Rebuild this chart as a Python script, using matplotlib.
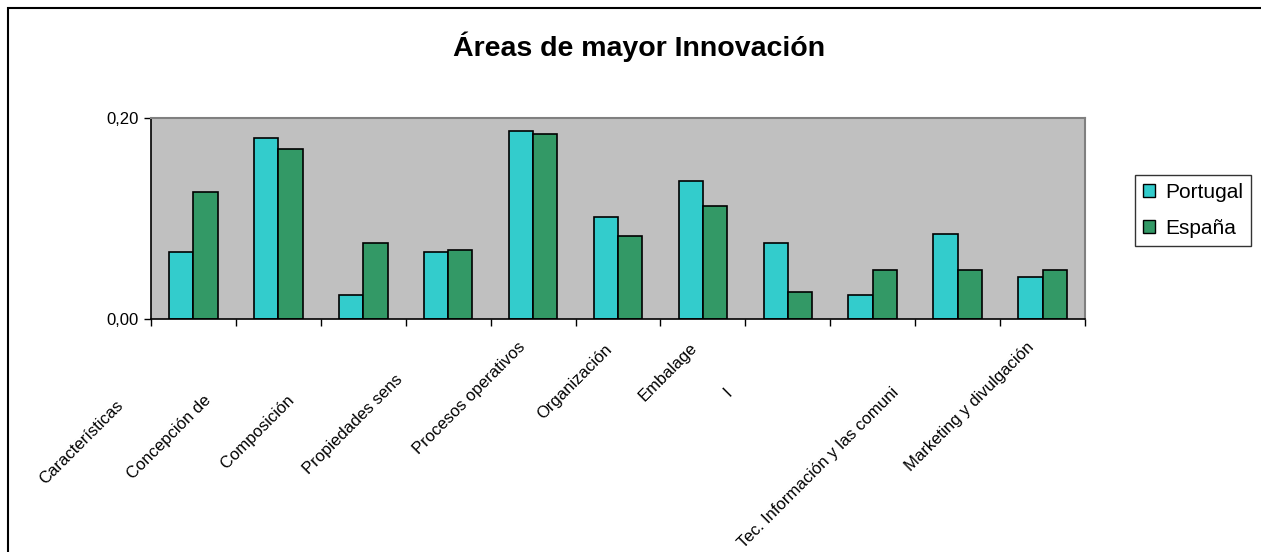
import numpy as np
import matplotlib
matplotlib.use("Agg")
import matplotlib.pyplot as plt
from matplotlib.patches import Patch, Rectangle

plt.rcParams['font.family'] = ['Liberation Sans', 'DejaVu Sans']

# datos
categorias = ["Características", "Concepción de ", "Composición ", "Propiedades sens",
              "Procesos operativos", "Organización", "Embalage", "I", "",
              "Tec. Información y las comuni", "Marketing y divulgación"]
portugal = [0.067, 0.180, 0.024, 0.067, 0.187, 0.101, 0.137, 0.076, 0.024, 0.085, 0.042]
espana = [0.126, 0.169, 0.076, 0.069, 0.184, 0.083, 0.112, 0.027, 0.049, 0.049, 0.049]

# desplazamiento de cada etiqueta (px) respecto al centro del grupo
label_dx = [-73, -67, -68, -48, -10, -8, -8, -58, 0, -61, -11]
label_dy = [-84, -76, -76, -58, -26, -28, -26, -72, 0, -71, -26]

W, H = 1261, 552
fig = plt.figure(figsize=(W/100, H/100), dpi=100)
fig.patch.set_facecolor("white")

# marco del gráfico
fig.patches.append(Rectangle((8/W, -0.05), 1.2, 1-8/H+0.05, transform=fig.transFigure,
                             fill=False, edgecolor="black", linewidth=1.5))

ax = fig.add_axes([151/W, (H-319)/H, (1085-151)/W, (319-118)/H])
ax.set_facecolor("#C0C0C0")

x = np.arange(len(categorias))
w = 1/3.5
ax.bar(x - w/2, portugal, w, color="#33CCCC", edgecolor="black", linewidth=1.2, label="Portugal")
ax.bar(x + w/2, espana, w, color="#339966", edgecolor="black", linewidth=1.2, label="España")

ax.set_xlim(-0.5, len(categorias)-0.5)
ax.set_ylim(0, 0.20)
ax.set_yticks([0, 0.20])
ax.set_yticklabels(["0,00", "0,20"], fontsize=12)
ax.set_xticks(np.arange(len(categorias)+1) - 0.5)
ax.set_xticklabels([])
ax.tick_params(axis="x", direction="out", length=5, width=1, color="black")
ax.tick_params(axis="y", direction="out", length=5, width=1, color="black", pad=4)

for s in ["top", "right"]:
    ax.spines[s].set_color("#808080")
    ax.spines[s].set_linewidth(1.5)
for s in ["left", "bottom"]:
    ax.spines[s].set_color("black")
    ax.spines[s].set_linewidth(1.2)

for i, lab in enumerate(categorias):
    if lab == "":
        continue
    ax.annotate(lab, xy=(i, 0), xycoords=("data", "axes fraction"),
                xytext=(label_dx[i], label_dy[i]), textcoords="offset pixels",
                rotation=45, rotation_mode="anchor", ha="right", va="center",
                fontsize=12, color="black", annotation_clip=False)

fig.text(639/W, 1-47/H, "Áreas de mayor Innovación", ha="center", va="center",
         fontsize=20.5, fontweight="bold")

handles = [Patch(facecolor="#33CCCC", edgecolor="black", label="Portugal"),
           Patch(facecolor="#339966", edgecolor="black", label="España")]
leg = fig.legend(handles=handles, loc="upper left", bbox_to_anchor=(1135/W, 1-175/H),
                 fontsize=15, frameon=True, fancybox=False, borderaxespad=0,
                 handlelength=0.6, handleheight=0.6, handletextpad=0.5,
                 borderpad=0.37, labelspacing=0.84)
leg.get_frame().set_edgecolor("black")
leg.get_frame().set_linewidth(1)

plt.savefig("out.png", dpi=100)
